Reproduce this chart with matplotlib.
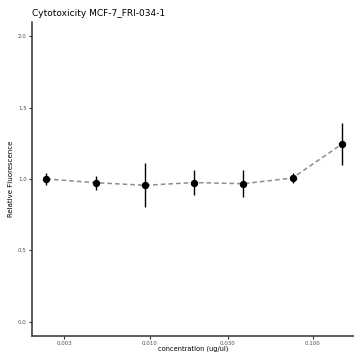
import numpy as np
import matplotlib
matplotlib.use("Agg")
import matplotlib.pyplot as plt

# data
conc = [0.00234, 0.00469, 0.009375, 0.01875, 0.0375, 0.075, 0.15]
rel_fluor = [1.0, 0.974, 0.956, 0.975, 0.967, 1.007, 1.244]
err = [0.045, 0.05, 0.155, 0.085, 0.095, 0.035, 0.145]
xticks = [0.003, 0.010, 0.030, 0.100]
xtick_labels = ["0.003", "0.010", "0.030", "0.100"]
yticks = [0.0, 0.5, 1.0, 1.5, 2.0]

W, H = 354, 352
fig = plt.figure(figsize=(W / 100, H / 100), dpi=100)
ax = fig.add_axes([32 / W, 16 / H, (354 - 32) / W, (336 - 22) / H])

ax.plot(conc, rel_fluor, linestyle=(0, (3, 2)), color="#8c8c8c", linewidth=1.1, zorder=1)
ax.errorbar(conc, rel_fluor, yerr=err, fmt="o", color="black", markersize=4.3,
            elinewidth=1.0, capsize=0, zorder=2)

ax.set_xscale("log")
ax.set_xlim(10 ** -2.719, 10 ** -0.749)
ax.set_ylim(-0.1, 2.1)
ax.set_xticks(xticks)
ax.set_xticklabels(xtick_labels)
ax.minorticks_off()
ax.set_yticks(yticks)
ax.set_yticklabels([f"{v:.1f}" for v in yticks])

for s in ["top", "right"]:
    ax.spines[s].set_visible(False)
for s in ["left", "bottom"]:
    ax.spines[s].set_color("#333333")
    ax.spines[s].set_linewidth(1.1)
ax.tick_params(axis="both", labelsize=4, colors="#333333", labelcolor="#4d4d4d",
               length=2.5, width=0.8, pad=1.2)

ax.set_xlabel("concentration (ug/ul)", fontsize=4.8)
# keep the label just inside the bottom edge
ax.xaxis.set_label_coords(0.5, -(351.5 - 336) / 314)
ax.xaxis.label.set_va("bottom")
ax.set_ylabel("Relative Fluorescence", fontsize=5, labelpad=3)
fig.text(32 / W, 1 - 13 / H, "Cytotoxicity MCF-7_FRI-034-1", fontsize=6.5,
         va="center", ha="left")

fig.savefig("out.png", dpi=100)
